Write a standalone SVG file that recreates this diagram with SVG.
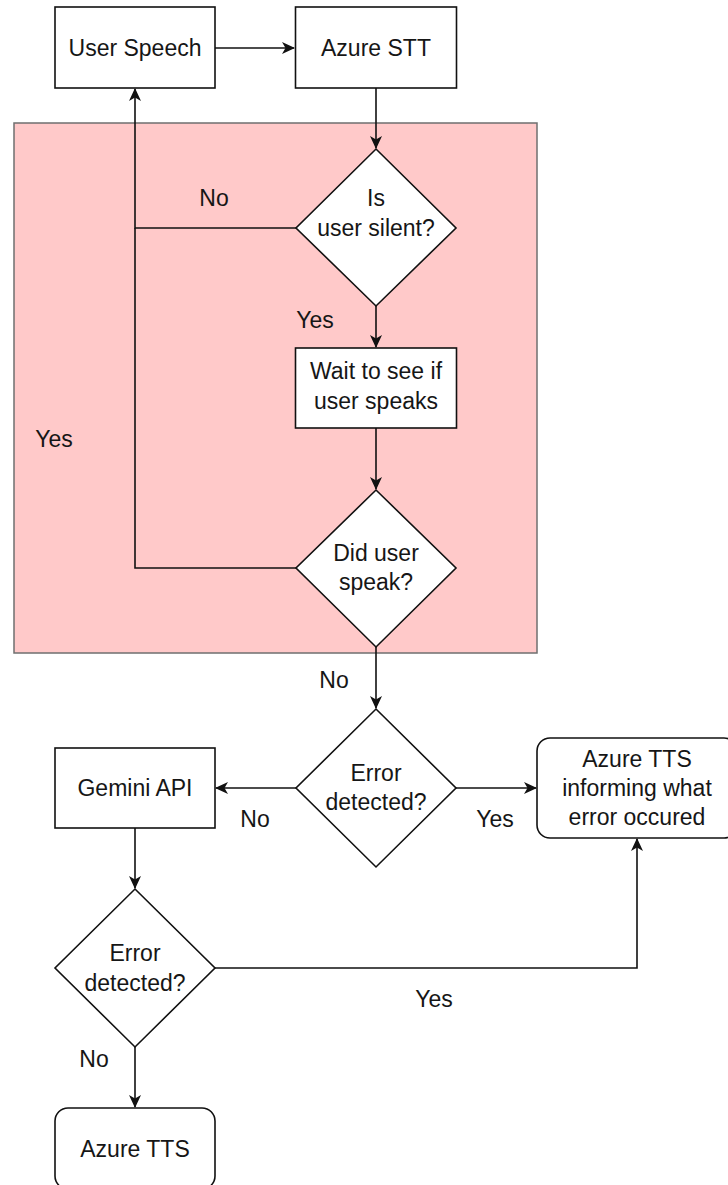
<svg xmlns="http://www.w3.org/2000/svg" width="728" height="1185" viewBox="0 0 728 1185">
<style>
.bg{fill:#ffffff}
.region{fill:#ffc9c9;stroke:#6f6f6f;stroke-width:1.5}
.box{fill:#ffffff;stroke:#111111;stroke-width:1.6}
.dia{fill:#ffffff;stroke:#111111;stroke-width:1.6}
.t{font-family:"Liberation Sans",Arial,Helvetica,sans-serif;font-size:23px;fill:#161616;text-anchor:middle}
.lbl{font-family:"Liberation Sans",Arial,Helvetica,sans-serif;font-size:23px;fill:#161616;text-anchor:middle}
.c{fill:none;stroke:#111111;stroke-width:1.6}
</style>
<defs>
<marker id="arr" viewBox="0 0 13 12" refX="12" refY="6" markerWidth="13" markerHeight="12" markerUnits="userSpaceOnUse" orient="auto">
<path d="M0,0 L13,6 L0,12 L3.5,6 z" fill="#111111"/>
</marker>
</defs>
<rect class="bg" x="0" y="0" width="728" height="1185"/>
<rect id="silence-region" class="region" x="14" y="123" width="523" height="530"/>

<g id="connectors">
<path class="c" d="M215,48 L294,48" marker-end="url(#arr)"/>
<path class="c" d="M376,88 L376,148" marker-end="url(#arr)"/>
<path class="c" d="M296,228 L135,228 L135,89" marker-end="url(#arr)"/>
<path class="c" d="M376,306 L376,347" marker-end="url(#arr)"/>
<path class="c" d="M376,428 L376,489" marker-end="url(#arr)"/>
<path class="c" d="M296,568 L135,568 L135,228"/>
<path class="c" d="M376,647 L376,708" marker-end="url(#arr)"/>
<path class="c" d="M296,788 L216,788" marker-end="url(#arr)"/>
<path class="c" d="M456,788 L536,788" marker-end="url(#arr)"/>
<path class="c" d="M135,828 L135,888" marker-end="url(#arr)"/>
<path class="c" d="M215,968 L637,968 L637,839" marker-end="url(#arr)"/>
<path class="c" d="M135,1047 L135,1107" marker-end="url(#arr)"/>
<text class="lbl" x="214" y="206">No</text>
<text class="lbl" x="315" y="328">Yes</text>
<text class="lbl" x="54" y="447">Yes</text>
<text class="lbl" x="334" y="688">No</text>
<text class="lbl" x="255" y="827">No</text>
<text class="lbl" x="495" y="827">Yes</text>
<text class="lbl" x="434" y="1007">Yes</text>
<text class="lbl" x="94" y="1067">No</text>
</g>

<g id="user-speech">
<rect class="box" x="55" y="7" width="160" height="81"/>
<text class="t" x="135" y="56">User Speech</text>
</g>
<g id="azure-stt">
<rect class="box" x="295.5" y="7" width="161" height="81"/>
<text class="t" x="376" y="56">Azure STT</text>
</g>
<g id="is-user-silent">
<polygon class="dia" points="376,149 456,228 376,306 296,228"/>
<text class="t" x="376" y="206">Is</text>
<text class="t" x="376" y="236">user silent?</text>
</g>
<g id="wait">
<rect class="box" x="295.5" y="348" width="161" height="80"/>
<text class="t" x="376" y="379">Wait to see if</text>
<text class="t" x="376" y="409">user speaks</text>
</g>
<g id="did-user-speak">
<polygon class="dia" points="376,490 456,568 376,647 296,568"/>
<text class="t" x="376" y="561">Did user</text>
<text class="t" x="376" y="590">speak?</text>
</g>
<g id="error-detected-1">
<polygon class="dia" points="376,709 456,788 376,867 296,788"/>
<text class="t" x="376" y="781">Error</text>
<text class="t" x="376" y="810">detected?</text>
</g>
<g id="gemini-api">
<rect class="box" x="55" y="748" width="160" height="80"/>
<text class="t" x="135" y="796">Gemini API</text>
</g>
<g id="azure-tts-error">
<rect class="box" x="537" y="738" width="200" height="100" rx="13"/>
<text class="t" x="637" y="767">Azure TTS</text>
<text class="t" x="637" y="796">informing what</text>
<text class="t" x="637" y="825">error occured</text>
</g>
<g id="error-detected-2">
<polygon class="dia" points="135,889 215,968 135,1047 55,968"/>
<text class="t" x="135" y="961">Error</text>
<text class="t" x="135" y="991">detected?</text>
</g>
<g id="azure-tts">
<rect class="box" x="55" y="1108" width="160" height="81" rx="13"/>
<text class="t" x="135" y="1157">Azure TTS</text>
</g>
</svg>
